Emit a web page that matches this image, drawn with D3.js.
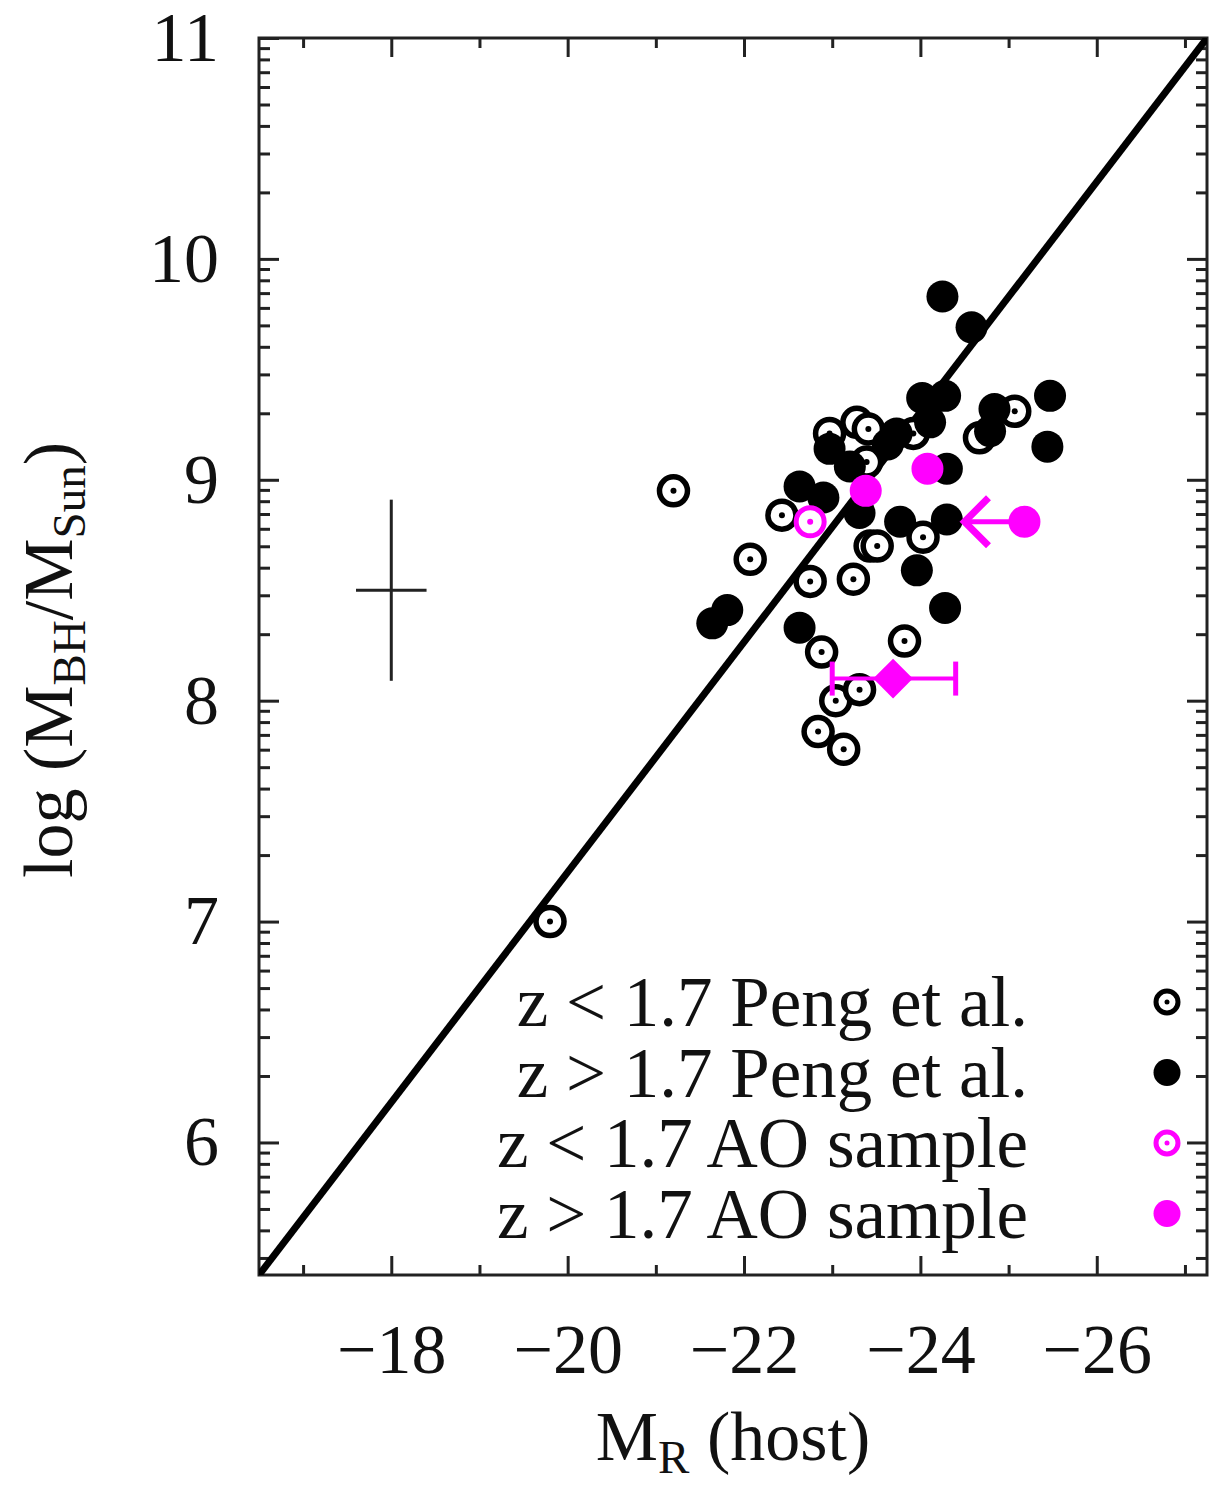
<!DOCTYPE html>
<html>
<head>
<meta charset="utf-8">
<script src="https://cdn.jsdelivr.net/npm/d3@7"></script>
<style>
  body { margin: 0; background: #fff; }
  svg text { font-family: "Liberation Serif", "DejaVu Serif", serif; fill: #111; }
</style>
</head>
<body>
<div id="chart"></div>
<script>
// open circles with dot: z < 1.7 Peng et al.
const lowzPeng = [
  [-21.2, 8.95], [-19.8, 7.0], [-22.07, 8.64], [-22.43, 8.84], [-22.75, 8.54],
  [-22.88, 8.22], [-23.24, 8.55], [-23.04, 8.0], [-23.31, 8.05], [-22.84, 7.86],
  [-23.13, 7.78], [-23.82, 8.27], [-24.03, 8.74], [-23.43, 8.70], [-23.51, 8.70],
  [-25.07, 9.31], [-24.67, 9.19], [-22.97, 9.21], [-23.28, 9.26], [-23.41, 9.23],
  [-23.92, 9.21], [-23.39, 9.08]
];
// filled black: z > 1.7 Peng et al.
const highzPeng = [
  [-24.25, 9.83], [-24.58, 9.69], [-24.02, 9.37], [-24.28, 9.38], [-25.47, 9.38],
  [-25.44, 9.15], [-24.11, 9.26], [-24.84, 9.32], [-24.79, 9.22], [-23.73, 9.21],
  [-23.63, 9.16], [-22.97, 9.14], [-23.2, 9.06], [-24.3, 9.05], [-24.3, 8.82],
  [-23.77, 8.81], [-23.31, 8.85], [-22.63, 8.97], [-22.9, 8.92], [-23.96, 8.59],
  [-24.28, 8.42], [-21.81, 8.41], [-21.64, 8.35], [-22.63, 8.33]
];
// AO sample
const lowzAO = [[-22.75, 8.81]];
const highzAO = [[-23.38, 8.95], [-24.08, 9.05]];
const highzAOLimit = [{ x: -25.18, y: 8.81, to: -24.5 }];
const highzAOErr = [{ x: -23.69, y: 8.10, lo: -23.0, hi: -24.4 }];
// typical error cross
const typicalErr = [{ x: -18, y: 8.5, dx: 0.4, dy: 0.41 }];
// fit relation
const fitLine = [[-16.5, 5.4], [-27.25, 11]];

const xMajor = [-18, -20, -22, -24, -26];
const xMinor = [-17, -19, -21, -23, -25, -27];
const yMajor = [6, 7, 8, 9, 10, 11];
const legendLabels = ["z < 1.7 Peng et al.", "z > 1.7 Peng et al.", "z < 1.7 AO sample", "z > 1.7 AO sample"];

const W = 1211, H = 1488;
const margin = { top: 38, right: 4, bottom: 213, left: 259 };
const magenta = "#ff00ff";

const svg = d3.select("#chart").append("svg")
  .attr("width", W).attr("height", H);

const x = d3.scaleLinear().domain([-16.5, -27.25]).range([margin.left, W - margin.right]);
const y = d3.scaleLinear().domain([5.4, 11]).range([H - margin.bottom, margin.top]);

// log-style minor ticks between integer values
let yMinor = [];
for (let n = 5; n < 11; n++) {
  for (let k = 2; k <= 9; k++) {
    const v = n + Math.log10(k);
    if (v > 5.4 && v < 11) yMinor.push(v);
  }
}

const x0 = x.range()[0], x1 = x.range()[1];
const y0 = y.range()[0], y1 = y.range()[1];

svg.append("clipPath").attr("id", "clip")
  .append("rect").attr("x", x0).attr("y", y1).attr("width", x1 - x0).attr("height", y0 - y1);

function styleAxis(g) {
  g.select(".domain").remove();
  g.selectAll(".tick line").attr("stroke", "#222").attr("stroke-width", 3);
}

// ticks on all four sides, pointing in
svg.append("g").attr("transform", `translate(0,${y0})`)
  .call(d3.axisBottom(x).tickValues(xMajor).tickSize(-19).tickPadding(48).tickFormat(d => "\u2212" + Math.abs(d)))
  .call(styleAxis)
  .selectAll("text").attr("font-size", 70).attr("font-family", "Liberation Serif").attr("fill", "#111");
svg.append("g").attr("transform", `translate(0,${y0})`)
  .call(d3.axisBottom(x).tickValues(xMinor).tickSize(-10).tickFormat(""))
  .call(styleAxis);
svg.append("g").attr("transform", `translate(0,${y1})`)
  .call(d3.axisTop(x).tickValues(xMajor).tickSize(-19).tickFormat(""))
  .call(styleAxis);
svg.append("g").attr("transform", `translate(0,${y1})`)
  .call(d3.axisTop(x).tickValues(xMinor).tickSize(-10).tickFormat(""))
  .call(styleAxis);

svg.append("g").attr("transform", `translate(${x0},0)`)
  .call(d3.axisLeft(y).tickValues(yMajor).tickSize(-20).tickPadding(40).tickFormat(d3.format("d")))
  .call(styleAxis)
  .selectAll("text").attr("font-size", 70).attr("font-family", "Liberation Serif").attr("fill", "#111");
svg.append("g").attr("transform", `translate(${x0},0)`)
  .call(d3.axisLeft(y).tickValues(yMinor).tickSize(-11).tickFormat(""))
  .call(styleAxis);
svg.append("g").attr("transform", `translate(${x1},0)`)
  .call(d3.axisRight(y).tickValues(yMajor).tickSize(-20).tickFormat(""))
  .call(styleAxis);
svg.append("g").attr("transform", `translate(${x1},0)`)
  .call(d3.axisRight(y).tickValues(yMinor).tickSize(-11).tickFormat(""))
  .call(styleAxis);

// frame
svg.append("rect")
  .attr("x", x0).attr("y", y1).attr("width", x1 - x0).attr("height", y0 - y1)
  .attr("fill", "none").attr("stroke", "#222").attr("stroke-width", 3);

// fit line
svg.append("path")
  .datum(fitLine)
  .attr("clip-path", "url(#clip)")
  .attr("d", d3.line().x(d => x(d[0])).y(d => y(d[1])))
  .attr("fill", "none").attr("stroke", "#000").attr("stroke-width", 7);

// typical error cross
const cross = svg.append("g").selectAll("g").data(typicalErr).enter().append("g");
cross.append("line")
  .attr("x1", d => x(d.x)).attr("x2", d => x(d.x))
  .attr("y1", d => y(d.y - d.dy)).attr("y2", d => y(d.y + d.dy))
  .attr("stroke", "#222").attr("stroke-width", 3);
cross.append("line")
  .attr("x1", d => x(d.x - d.dx)).attr("x2", d => x(d.x + d.dx))
  .attr("y1", d => y(d.y)).attr("y2", d => y(d.y))
  .attr("stroke", "#222").attr("stroke-width", 3);

function ringDot(sel, color, r, sw, dotR) {
  sel.append("circle").attr("r", r).attr("fill", "#fff")
    .attr("stroke", color).attr("stroke-width", sw);
  sel.append("circle").attr("r", dotR).attr("fill", color);
}

// Peng z < 1.7
svg.append("g").selectAll("g").data(lowzPeng).enter().append("g")
  .attr("transform", d => `translate(${x(d[0])},${y(d[1])})`)
  .call(ringDot, "#000", 14, 5.5, 3);

// Peng z > 1.7
svg.append("g").selectAll("circle").data(highzPeng).enter().append("circle")
  .attr("cx", d => x(d[0])).attr("cy", d => y(d[1])).attr("r", 16).attr("fill", "#000");

// AO error bar point
const eb = svg.append("g").selectAll("g").data(highzAOErr).enter().append("g");
eb.append("line")
  .attr("x1", d => x(d.lo)).attr("x2", d => x(d.hi))
  .attr("y1", d => y(d.y)).attr("y2", d => y(d.y))
  .attr("stroke", magenta).attr("stroke-width", 4);
eb.selectAll("line.cap").data(d => [d.lo, d.hi].map(v => ({ v, y: d.y }))).enter().append("line")
  .attr("class", "cap")
  .attr("x1", d => x(d.v)).attr("x2", d => x(d.v))
  .attr("y1", d => y(d.y) - 17).attr("y2", d => y(d.y) + 17)
  .attr("stroke", magenta).attr("stroke-width", 5);
eb.append("path")
  .attr("transform", d => `translate(${x(d.x)},${y(d.y)})`)
  .attr("d", d3.symbol(d3.symbolDiamond2, 1000)())
  .attr("fill", magenta);

// AO upper-limit arrow
const lim = svg.append("g").selectAll("g").data(highzAOLimit).enter().append("g");
lim.append("line")
  .attr("x1", d => x(d.x)).attr("x2", d => x(d.to))
  .attr("y1", d => y(d.y)).attr("y2", d => y(d.y))
  .attr("stroke", magenta).attr("stroke-width", 5);
lim.append("path")
  .attr("d", d => `M${x(d.to) + 24},${y(d.y) - 24}L${x(d.to)},${y(d.y)}L${x(d.to) + 24},${y(d.y) + 24}`)
  .attr("fill", "none").attr("stroke", magenta).attr("stroke-width", 7);
lim.append("circle")
  .attr("cx", d => x(d.x)).attr("cy", d => y(d.y)).attr("r", 16).attr("fill", magenta);

// AO z < 1.7
svg.append("g").selectAll("g").data(lowzAO).enter().append("g")
  .attr("transform", d => `translate(${x(d[0])},${y(d[1])})`)
  .call(ringDot, magenta, 14, 5, 3);

// AO z > 1.7
svg.append("g").selectAll("circle").data(highzAO).enter().append("circle")
  .attr("cx", d => x(d[0])).attr("cy", d => y(d[1])).attr("r", 16).attr("fill", magenta);

// legend
const legend = svg.append("g");
const rows = legend.selectAll("g").data(legendLabels).enter().append("g")
  .attr("transform", (d, i) => `translate(0,${1002 + i * 70.5})`);
rows.append("text")
  .attr("x", 1028).attr("y", 24)
  .attr("text-anchor", "end").attr("font-size", 71)
  .text(d => d);
rows.each(function (d, i) {
  const g = d3.select(this).append("g").attr("transform", "translate(1167,0)");
  if (i === 0) ringDot(g, "#000", 11, 5, 2.5);
  if (i === 1) g.append("circle").attr("r", 13.5).attr("fill", "#000");
  if (i === 2) ringDot(g, magenta, 11, 5, 2.5);
  if (i === 3) g.append("circle").attr("r", 13.5).attr("fill", magenta);
});

// axis titles
const xt = svg.append("text")
  .attr("x", 733).attr("y", 1460)
  .attr("text-anchor", "middle").attr("font-size", 70);
xt.append("tspan").text("M");
xt.append("tspan").attr("font-size", 47).attr("dy", 13).text("R");
xt.append("tspan").attr("dy", -13).text(" (host)");

const yt = svg.append("text")
  .attr("transform", "translate(72,660) rotate(-90)")
  .attr("text-anchor", "middle").attr("font-size", 70);
yt.append("tspan").text("log (M");
yt.append("tspan").attr("font-size", 47).attr("dy", 13).text("BH");
yt.append("tspan").attr("dy", -13).text("/M");
yt.append("tspan").attr("font-size", 47).attr("dy", 13).text("Sun");
yt.append("tspan").attr("dy", -13).text(")");
</script>
</body>
</html>
